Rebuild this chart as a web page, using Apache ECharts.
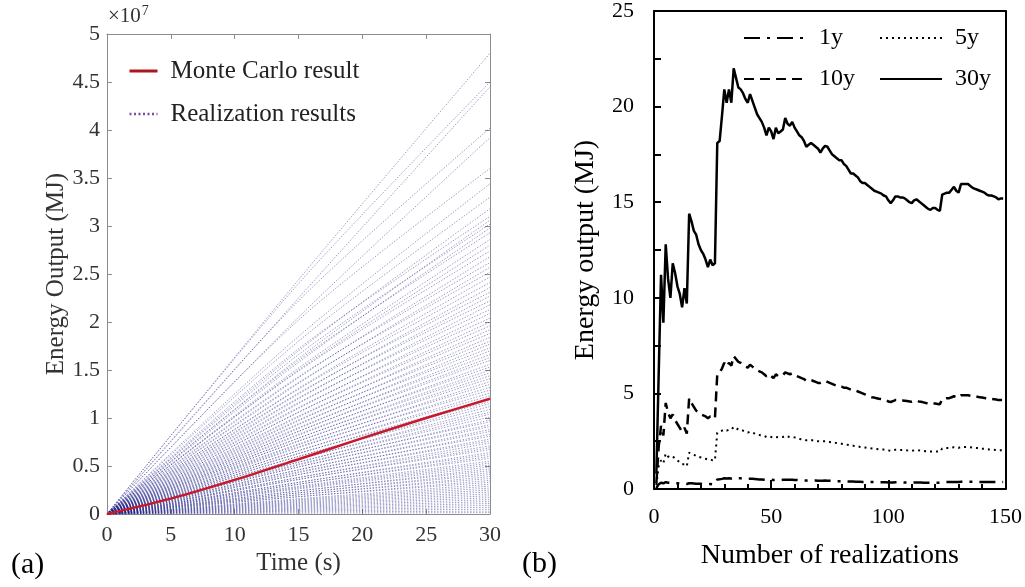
<!DOCTYPE html>
<html>
<head>
<meta charset="utf-8">
<script src="https://cdn.jsdelivr.net/npm/echarts@6/dist/echarts.min.js"></script>
<style>
  html, body { margin: 0; padding: 0; background: #fff; }
  #chart { width: 1025px; height: 587px; }
</style>
</head>
<body>
<div id="chart"></div>
<script>
const SERIF = "'Liberation Serif', 'Times New Roman', serif";

// ---- Panel (a): cumulative energy output vs. time, in units of 10^7 MJ ----
const monteCarloTime = [0, 5, 10, 15, 20, 25, 30];
const monteCarloEnergy = [0, 0.16, 0.355, 0.57, 0.79, 1.0, 1.2];

// each realization: value at t = 15 s and at t = 30 s
const realizationAt15 = [
  2.44, 2.40, 2.25, 2.22, 2.05, 2.02, 1.85, 1.80, 1.70, 1.72,
  1.62, 1.66, 1.58, 1.60, 1.52, 1.50, 1.49, 1.42, 1.43, 1.36,
  1.37, 1.31, 1.30, 1.25, 1.26, 1.20, 1.21, 1.15, 1.16, 1.10,
  1.11, 1.06, 1.06, 1.01, 1.02, 0.97, 0.98, 0.93, 0.94, 0.89,
  0.90, 0.86, 0.86, 0.82, 0.83, 0.79, 0.79, 0.76, 0.76, 0.72,
  0.73, 0.69, 0.70, 0.66, 0.66, 0.63, 0.63, 0.60, 0.60, 0.57,
  0.57, 0.54, 0.54, 0.51, 0.52, 0.49, 0.49, 0.46, 0.46, 0.43,
  0.44, 0.41, 0.41, 0.38, 0.38, 0.36, 0.36, 0.33, 0.33, 0.31,
  0.31, 0.29, 0.28, 0.27, 0.26, 0.24, 0.24, 0.22, 0.22, 0.20,
  0.20, 0.18, 0.18, 0.16, 0.15, 0.14, 0.13, 0.12, 0.11, 0.10,
  0.09, 0.08, 0.07, 0.06, 0.05, 0.04, 0.03, 0.02, 0.008
];
const realizationAt30 = [
  4.80, 4.50, 4.45, 4.02, 3.92, 3.60, 3.44, 3.30, 3.18, 3.10,
  3.06, 3.02, 2.98, 2.93, 2.86, 2.80, 2.74, 2.68, 2.62, 2.57,
  2.52, 2.47, 2.41, 2.36, 2.31, 2.27, 2.22, 2.18, 2.13, 2.09,
  2.04, 2.00, 1.96, 1.92, 1.88, 1.84, 1.80, 1.77, 1.73, 1.70,
  1.66, 1.63, 1.60, 1.56, 1.53, 1.50, 1.47, 1.44, 1.41, 1.38,
  1.35, 1.32, 1.29, 1.26, 1.23, 1.20, 1.17, 1.15, 1.12, 1.09,
  1.06, 1.04, 1.01, 0.98, 0.96, 0.93, 0.91, 0.88, 0.86, 0.83,
  0.81, 0.78, 0.76, 0.74, 0.71, 0.69, 0.67, 0.64, 0.62, 0.60,
  0.58, 0.55, 0.53, 0.51, 0.49, 0.47, 0.45, 0.43, 0.41, 0.39,
  0.37, 0.35, 0.33, 0.31, 0.29, 0.27, 0.25, 0.23, 0.21, 0.19,
  0.17, 0.15, 0.13, 0.11, 0.09, 0.07, 0.05, 0.03, 0.015
];

// ---- Panel (b): running mean energy output (MJ) vs. number of realizations (1..149) ----
const energy30y = [
  0.8, 6.0, 11.2, 8.7, 12.8, 11.0, 10.0, 11.8, 11.3, 10.6,
  10.2, 9.5, 10.5, 9.7, 14.4, 14.0, 13.5, 13.3, 12.8, 12.5,
  12.3, 12.0, 11.6, 12.0, 11.7, 11.8, 18.1, 18.2, 19.5, 20.9,
  20.2, 20.9, 20.2, 22.0, 21.5, 21.0, 20.9, 20.7, 20.4, 20.2,
  20.65, 20.3, 19.95, 19.6, 19.4, 19.2, 18.9, 18.5, 18.9, 18.7,
  18.3, 18.9, 18.6, 18.7, 18.8, 19.4, 19.1, 19.0, 19.2, 18.9,
  18.7, 18.5, 18.4, 18.2, 17.9, 18.0, 18.1, 18.0, 17.9, 17.8,
  17.6, 17.8, 17.95, 17.9, 17.7, 17.5, 17.4, 17.3, 17.2, 17.2,
  17.0, 16.9, 16.7, 16.5, 16.5, 16.4, 16.3, 16.1, 16.0, 16.0,
  15.9, 15.8, 15.7, 15.6, 15.55, 15.5, 15.45, 15.35, 15.3, 15.1,
  14.95, 15.1, 15.3, 15.3, 15.25, 15.25, 15.2, 15.1, 15.0, 14.95,
  15.1, 15.15, 15.05, 14.95, 14.85, 14.75, 14.65, 14.6, 14.7, 14.7,
  14.6, 14.55, 15.4, 15.45, 15.5, 15.5, 15.65, 15.8, 15.6, 15.5,
  15.95, 15.95, 15.95, 15.95, 15.85, 15.75, 15.7, 15.65, 15.6, 15.55,
  15.5, 15.4, 15.35, 15.35, 15.3, 15.25, 15.15, 15.2, 15.2
];
const energy10y = [
  0.3, 2.2, 3.3, 2.8, 4.5, 4.0, 3.7, 3.9, 3.6, 3.4,
  3.2, 3.0, 3.2, 2.9, 4.75, 4.5, 4.3, 4.1, 4.0, 3.9,
  3.85, 3.8, 3.7, 3.8, 3.7, 3.7, 6.0, 6.1, 6.3, 6.6,
  6.4, 6.6, 6.45, 6.95, 6.8, 6.65, 6.6, 6.5, 6.4, 6.35,
  6.5, 6.4, 6.3, 6.2, 6.15, 6.1, 6.0, 5.9, 6.0, 5.9,
  5.8, 6.0, 5.9, 5.95, 5.95, 6.1, 6.05, 6.0, 6.05, 5.95,
  5.9, 5.85, 5.8, 5.75, 5.65, 5.7, 5.7, 5.65, 5.6, 5.55,
  5.55, 5.6, 5.65, 5.6, 5.55, 5.5, 5.45, 5.4, 5.35, 5.35,
  5.3, 5.3, 5.25, 5.2, 5.2, 5.15, 5.1, 5.05, 5.0, 4.95,
  4.9, 4.85, 4.8, 4.78, 4.75, 4.72, 4.7, 4.68, 4.65, 4.58,
  4.55, 4.6, 4.65, 4.65, 4.63, 4.63, 4.62, 4.6, 4.58, 4.56,
  4.6, 4.62, 4.58, 4.56, 4.53, 4.5, 4.48, 4.45, 4.47, 4.47,
  4.45, 4.43, 4.7, 4.72, 4.75, 4.75, 4.8, 4.85, 4.8, 4.78,
  4.9, 4.9, 4.9, 4.9, 4.88, 4.85, 4.83, 4.82, 4.8, 4.78,
  4.76, 4.74, 4.72, 4.71, 4.7, 4.68, 4.65, 4.66, 4.66
];
const energy5y = [
  0.2, 1.2, 1.5, 1.35, 1.85, 1.7, 1.65, 1.7, 1.6, 1.5,
  1.4, 1.3, 1.3, 1.2, 1.9, 1.85, 1.8, 1.72, 1.68, 1.65,
  1.6, 1.58, 1.55, 1.55, 1.5, 1.5, 2.95, 3.0, 3.05, 3.1,
  3.05, 3.1, 3.1, 3.25, 3.2, 3.1, 3.1, 3.05, 3.0, 2.95,
  3.0, 2.95, 2.9, 2.85, 2.82, 2.8, 2.78, 2.72, 2.75, 2.72,
  2.68, 2.72, 2.7, 2.7, 2.72, 2.78, 2.75, 2.72, 2.72, 2.7,
  2.66, 2.62, 2.6, 2.58, 2.55, 2.56, 2.56, 2.54, 2.52, 2.5,
  2.48, 2.5, 2.5, 2.48, 2.46, 2.44, 2.42, 2.4, 2.38, 2.37,
  2.35, 2.33, 2.3, 2.27, 2.26, 2.25, 2.23, 2.2, 2.18, 2.17,
  2.15, 2.13, 2.12, 2.1, 2.09, 2.08, 2.07, 2.06, 2.05, 2.02,
  2.0, 2.02, 2.05, 2.05, 2.04, 2.04, 2.03, 2.02, 2.01, 2.0,
  2.02, 2.03, 2.02, 2.0, 1.99, 1.98, 1.97, 1.96, 1.97, 1.97,
  1.96, 1.95, 2.12, 2.13, 2.14, 2.14, 2.16, 2.18, 2.16, 2.15,
  2.2, 2.2, 2.2, 2.2, 2.18, 2.16, 2.15, 2.14, 2.12, 2.11,
  2.1, 2.08, 2.07, 2.06, 2.05, 2.04, 2.02, 2.03, 2.03
];
const energy1y = [
  0.05, 0.25, 0.33, 0.3, 0.36, 0.33, 0.32, 0.33, 0.31, 0.3,
  0.28, 0.27, 0.27, 0.26, 0.3, 0.3, 0.29, 0.28, 0.27, 0.27,
  0.26, 0.26, 0.25, 0.26, 0.25, 0.25, 0.5, 0.51, 0.53, 0.56,
  0.55, 0.56, 0.55, 0.59, 0.58, 0.56, 0.56, 0.55, 0.54, 0.53,
  0.54, 0.53, 0.52, 0.51, 0.5, 0.5, 0.49, 0.48, 0.49, 0.48,
  0.47, 0.48, 0.47, 0.47, 0.48, 0.49, 0.48, 0.48, 0.48, 0.47,
  0.47, 0.46, 0.46, 0.45, 0.44, 0.45, 0.45, 0.44, 0.44, 0.43,
  0.43, 0.43, 0.44, 0.43, 0.43, 0.42, 0.42, 0.41, 0.41, 0.41,
  0.4, 0.4, 0.39, 0.39, 0.39, 0.38, 0.38, 0.38, 0.37, 0.37,
  0.37, 0.36, 0.36, 0.36, 0.35, 0.35, 0.35, 0.35, 0.35, 0.34,
  0.34, 0.34, 0.35, 0.35, 0.35, 0.35, 0.34, 0.34, 0.34, 0.34,
  0.34, 0.34, 0.34, 0.34, 0.33, 0.33, 0.33, 0.33, 0.33, 0.33,
  0.33, 0.33, 0.36, 0.36, 0.36, 0.36, 0.37, 0.37, 0.37, 0.37,
  0.38, 0.38, 0.38, 0.38, 0.38, 0.38, 0.38, 0.37, 0.37, 0.37,
  0.37, 0.37, 0.37, 0.37, 0.36, 0.36, 0.36, 0.36, 0.36
];

const withCount = arr => arr.map((v, i) => [i + 1, v]);

const GRAY_AXIS = '#8c8c8c';
const GRAY_TEXT = '#333';
// legend keeps only the line sample (no marker dot)
const NO_MARKER = { color: 'transparent', borderColor: 'transparent', borderWidth: 0, opacity: 0 };

const realizationSeries = realizationAt30.map((end, i) => ({
  name: 'Realization results',
  type: 'line',
  xAxisIndex: 0, yAxisIndex: 0,
  data: [[0, 0], [15, realizationAt15[i]], [30, end]],
  smooth: 0.3,
  symbol: 'none',
  silent: true,
  z: 2,
  lineStyle: { color: 'rgba(40,40,140,0.6)', width: 0.8, type: [1.4, 1.6] }
}));

const option = {
  animation: false,
  backgroundColor: '#fff',
  grid: [
    { left: 107, top: 34, width: 383, height: 480 },
    { left: 654, top: 11, width: 352, height: 478 }
  ],
  xAxis: [
    {
      gridIndex: 0, type: 'value', min: 0, max: 30, interval: 5, position: 'bottom',
      axisLine: { onZero: false, lineStyle: { color: GRAY_AXIS, width: 1 } },
      axisTick: { inside: true, length: 5, lineStyle: { color: GRAY_AXIS } },
      axisLabel: { fontFamily: SERIF, fontSize: 22, color: GRAY_TEXT, margin: 10 },
      splitLine: { show: false },
      name: 'Time (s)', nameLocation: 'middle', nameGap: 36,
      nameTextStyle: { fontFamily: SERIF, fontSize: 25, color: GRAY_TEXT }
    },
    {
      gridIndex: 0, type: 'value', min: 0, max: 30, interval: 5, position: 'top',
      axisLine: { onZero: false, lineStyle: { color: GRAY_AXIS, width: 1 } },
      axisTick: { inside: true, length: 5, lineStyle: { color: GRAY_AXIS } },
      axisLabel: { show: false }, splitLine: { show: false }
    },
    {
      gridIndex: 1, type: 'value', min: 0, max: 150, interval: 50, position: 'bottom',
      axisLine: { onZero: false, lineStyle: { color: '#000', width: 2 } },
      axisTick: { inside: true, length: 9, lineStyle: { color: '#000', width: 2 } },
      minorTick: { show: true, splitNumber: 5, length: 5, lineStyle: { color: '#000', width: 2 } },
      axisLabel: { fontFamily: SERIF, fontSize: 22, color: '#000', margin: 17 },
      splitLine: { show: false },
      name: 'Number of realizations', nameLocation: 'middle', nameGap: 53,
      nameTextStyle: { fontFamily: SERIF, fontSize: 28, color: '#000' }
    },
    {
      gridIndex: 1, type: 'value', min: 0, max: 150, position: 'top',
      axisLine: { onZero: false, lineStyle: { color: '#000', width: 2 } },
      axisTick: { show: false }, axisLabel: { show: false }, splitLine: { show: false }
    }
  ],
  yAxis: [
    {
      gridIndex: 0, type: 'value', min: 0, max: 5, interval: 0.5, position: 'left',
      axisLine: { onZero: false, lineStyle: { color: GRAY_AXIS, width: 1 } },
      axisTick: { inside: true, length: 5, lineStyle: { color: GRAY_AXIS } },
      axisLabel: { fontFamily: SERIF, fontSize: 22, color: GRAY_TEXT, margin: 7 },
      splitLine: { show: false },
      name: 'Energy Output (MJ)', nameLocation: 'middle', nameGap: 38,
      nameTextStyle: { fontFamily: SERIF, fontSize: 25, color: GRAY_TEXT }
    },
    {
      gridIndex: 0, type: 'value', min: 0, max: 5, interval: 0.5, position: 'right',
      axisLine: { onZero: false, lineStyle: { color: GRAY_AXIS, width: 1 } },
      axisTick: { inside: true, length: 5, lineStyle: { color: GRAY_AXIS } },
      axisLabel: { show: false }, splitLine: { show: false }
    },
    {
      gridIndex: 1, type: 'value', min: 0, max: 25, interval: 5, position: 'left',
      axisLine: { onZero: false, lineStyle: { color: '#000', width: 2 } },
      axisTick: { inside: true, length: 7, lineStyle: { color: '#000', width: 2 } },
      minorTick: { show: true, splitNumber: 2, length: 7, lineStyle: { color: '#000', width: 2 } },
      axisLabel: { fontFamily: SERIF, fontSize: 22, color: '#000', margin: 20 },
      splitLine: { show: false },
      name: 'Energy output (MJ)', nameLocation: 'middle', nameGap: 54,
      nameTextStyle: { fontFamily: SERIF, fontSize: 28, color: '#000' }
    },
    {
      gridIndex: 1, type: 'value', min: 0, max: 25, position: 'right',
      axisLine: { onZero: false, lineStyle: { color: '#000', width: 2 } },
      axisTick: { show: false }, axisLabel: { show: false }, splitLine: { show: false }
    }
  ],
  legend: [
    {
      left: 123, top: 52, orient: 'vertical',
      itemWidth: 28, itemHeight: 14, itemGap: 15,
      itemStyle: NO_MARKER,
      textStyle: { fontFamily: SERIF, fontSize: 25, color: '#222', lineHeight: 28, padding: [0, 0, 0, 8] },
      data: [
        { name: 'Monte Carlo result', lineStyle: { color: '#b0151e', width: 3, type: 'solid' } },
        { name: 'Realization results', lineStyle: { color: '#7a4ea0', width: 2.5, type: [2, 2.5], opacity: 1 } }
      ],
      selectedMode: false
    },
    {
      left: 738, top: 20, orient: 'vertical',
      itemWidth: 62, itemHeight: 14, itemGap: 15,
      itemStyle: NO_MARKER,
      textStyle: { fontFamily: SERIF, fontSize: 24, color: '#000', lineHeight: 26, padding: [0, 0, 0, 8] },
      data: ['1y', '10y'], selectedMode: false
    },
    {
      left: 874, top: 20, orient: 'vertical',
      itemWidth: 62, itemHeight: 14, itemGap: 15,
      itemStyle: NO_MARKER,
      textStyle: { fontFamily: SERIF, fontSize: 24, color: '#000', lineHeight: 26, padding: [0, 0, 0, 8] },
      data: ['5y', '30y'], selectedMode: false
    }
  ],
  graphic: [
    {
      type: 'text', left: 108, top: 4,
      style: {
        text: '{a|×10}{b|7}',
        rich: {
          a: { fontFamily: SERIF, fontSize: 21, fill: GRAY_TEXT },
          b: { fontFamily: SERIF, fontSize: 14, fill: GRAY_TEXT, padding: [0, 0, 10, 1] }
        }
      }
    },
    { type: 'text', left: 11, top: 550, style: { text: '(a)', fontFamily: SERIF, fontSize: 30, fill: '#000' } },
    { type: 'text', left: 522, top: 549, style: { text: '(b)', fontFamily: SERIF, fontSize: 30, fill: '#000' } }
  ],
  series: [
    ...realizationSeries,
    {
      name: 'Monte Carlo result', type: 'line', xAxisIndex: 0, yAxisIndex: 0,
      data: monteCarloTime.map((t, i) => [t, monteCarloEnergy[i]]),
      smooth: 0.3, symbol: 'none', z: 5,
      lineStyle: { color: '#c8192b', width: 2.5 }
    },
    {
      name: '1y', type: 'line', xAxisIndex: 2, yAxisIndex: 2, data: withCount(energy1y),
      symbol: 'none', lineStyle: { color: '#000', width: 2.5, type: [16, 7, 3, 7] }
    },
    {
      name: '5y', type: 'line', xAxisIndex: 2, yAxisIndex: 2, data: withCount(energy5y),
      symbol: 'none', lineStyle: { color: '#000', width: 2, type: [2, 4] }
    },
    {
      name: '10y', type: 'line', xAxisIndex: 2, yAxisIndex: 2, data: withCount(energy10y),
      symbol: 'none', lineStyle: { color: '#000', width: 2.5, type: [10, 6] }
    },
    {
      name: '30y', type: 'line', xAxisIndex: 2, yAxisIndex: 2, data: withCount(energy30y),
      symbol: 'none', lineStyle: { color: '#000', width: 2.5, type: 'solid' }
    }
  ]
};

const chart = echarts.init(document.getElementById('chart'), null, { renderer: 'canvas' });
chart.setOption(option);
</script>
</body>
</html>
